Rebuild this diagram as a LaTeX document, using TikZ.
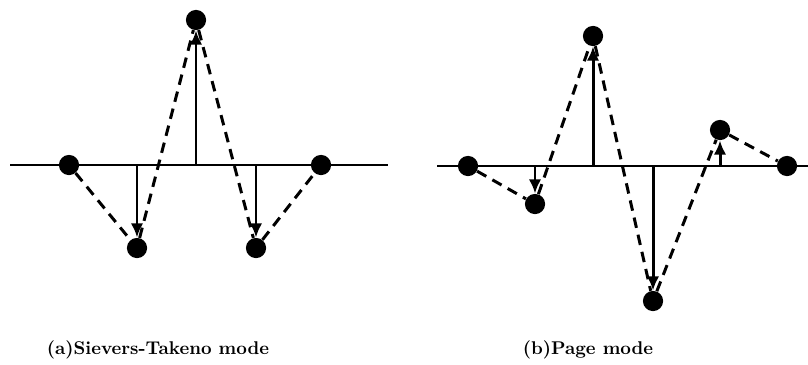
\documentclass[tikz,border=0pt]{standalone}
\usepackage{tikz}
\usetikzlibrary{arrows.meta}

\tikzset{
  atom/.style={circle,fill=black,inner sep=0pt,minimum size=11.5pt},
  displ/.style={line width=1.7pt,-{Latex[length=8pt,width=7pt]}},
  bond/.style={line width=1.7pt,dashed,dash pattern=on 6pt off 4pt},
  axisline/.style={line width=1.7pt}
}

\begin{document}
\begin{tikzpicture}[x=0.02cm,y=-0.02cm]
      \useasboundingbox (0,0) rectangle (808,365);

      \def\ay{165}

      % (a) Sievers-Takeno mode
      \coordinate (la) at (10,\ay);
      \coordinate (ra) at (388,\ay);
      \draw[axisline] (la) -- (ra);

      \node[atom] (a1) at (69,\ay) {};
      \node[atom] (a2) at (137,248) {};
      \node[atom] (a3) at (196,20) {};
      \node[atom] (a4) at (256,248) {};
      \node[atom] (a5) at (321,\ay) {};

      \foreach \n/\x in {2/137, 3/196, 4/256}
               {
                 \coordinate (ba\n) at (\x,\ay);
                 \draw[displ] (ba\n) -- (a\n);
               }

      \draw[bond] (a1) -- (a2) -- (a3) -- (a4) -- (a5);

      % (b) Page mode
      \coordinate (lb) at (437,166);
      \coordinate (rb) at (808,166);
      \draw[axisline] (lb) -- (rb);

      \node[atom] (b1) at (468,166) {};
      \node[atom] (b2) at (535,204) {};
      \node[atom] (b3) at (593,36) {};
      \node[atom] (b4) at (653,301) {};
      \node[atom] (b5) at (720,130) {};
      \node[atom] (b6) at (787,166) {};

      \foreach \n/\x in {2/535, 3/593, 4/653, 5/720}
               {
                 \coordinate (bb\n) at (\x,166);
                 \draw[displ] (bb\n) -- (b\n);
               }

      \draw[bond] (b1) -- (b2) -- (b3) -- (b4) -- (b5) -- (b6);

      % captions
      \node (capa) at (158,350) {\fontsize{10.5}{12}\selectfont\bfseries (a)Sievers-Takeno mode};
      \node (capb) at (588,350) {\fontsize{10.5}{12}\selectfont\bfseries (b)Page mode};
\end{tikzpicture}
\end{document}
